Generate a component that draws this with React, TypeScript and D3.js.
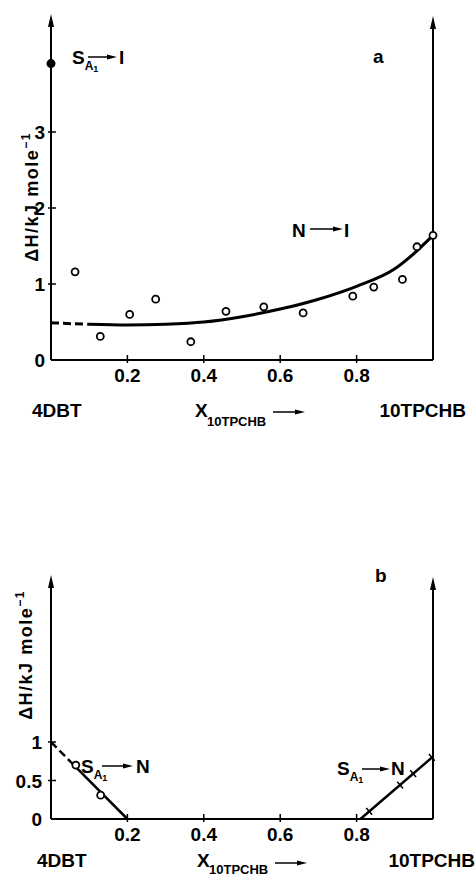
import React from "react";
import * as d3 from "d3";

// x axis ticks shared by both panels
const xTicks = [0.2, 0.4, 0.6, 0.8];
const xTickLabels = ["0.2", "0.4", "0.6", "0.8"];

// panel a
const aYTicks = [0, 1, 2, 3];
const aPointX = [0.063, 0.129, 0.206, 0.274, 0.366, 0.458, 0.557, 0.66, 0.79, 0.845, 0.92, 0.958, 1.0];
const aPointY = [1.16, 0.31, 0.6, 0.8, 0.24, 0.64, 0.7, 0.62, 0.84, 0.96, 1.06, 1.49, 1.64];
const aCurveX = [0, 0.1, 0.2, 0.3, 0.4, 0.5, 0.6, 0.7, 0.8, 0.9, 0.95, 1];
const aCurveY = [0.49, 0.47, 0.46, 0.47, 0.5, 0.57, 0.67, 0.8, 0.97, 1.2, 1.4, 1.64];
const aDashEnd = 0.095;
const aSmaIso = 3.9; // filled point on the 4DBT axis

// panel b
const bYTicks = [0, 0.5, 1];
const bYTickLabels = ["0", "0.5", "1"];
const bLeftLineX = [0, 0.2];
const bLeftLineY = [1, 0];
const bLeftDashEnd = 0.06;
const bLeftPointX = [0.065, 0.13];
const bLeftPointY = [0.7, 0.31];
const bRightLineX = [0.81, 1];
const bRightLineY = [0, 0.81];
const bRightCrossX = [0.833, 0.914, 0.948, 0.997];
const bRightCrossY = [0.1, 0.44, 0.59, 0.8];

const FONT = "'Liberation Sans', Arial, Helvetica, sans-serif";

const x = d3.scaleLinear().domain([0, 1]).range([51, 433]);
const yA = d3.scaleLinear().domain([0, 1]).range([360, 284]);
const yB = d3.scaleLinear().domain([0, 1]).range([819, 742]);

function Arrow({ x1, y1, x2, y2, w = 3, len = 10, sw = 1.6 }: any) {
  const a = Math.atan2(y2 - y1, x2 - x1);
  const bx = x2 - len * Math.cos(a);
  const by = y2 - len * Math.sin(a);
  const px = -Math.sin(a) * w;
  const py = Math.cos(a) * w;
  return (
    <g>
      <line x1={x1} y1={y1} x2={bx} y2={by} stroke="#000" strokeWidth={sw} />
      <polygon points={`${x2},${y2} ${bx + px},${by + py} ${bx - px},${by - py}`} fill="#000" />
    </g>
  );
}

function Frame({ y, top, ticks, labels, labelX }: any) {
  const y0 = y(0);
  return (
    <g>
      <line x1={x(0)} y1={y0} x2={x(1)} y2={y0} stroke="#000" strokeWidth={2} />
      <Arrow x1={x(0)} y1={y0} x2={x(0)} y2={top} w={3} len={13} sw={2} />
      <Arrow x1={x(1)} y1={y0} x2={x(1)} y2={top + 2} w={3} len={13} sw={2} />
      {xTicks.map((t, i) => (
        <g key={t}>
          <line x1={x(t)} y1={y0 - 5} x2={x(t)} y2={y0 + 3} stroke="#000" strokeWidth={1.5} />
          <text x={x(t)} y={y0 + 22} textAnchor="middle" fontSize={19} fontWeight="bold" fontFamily={FONT}>
            {xTickLabels[i]}
          </text>
        </g>
      ))}
      {ticks.map((t: number, i: number) => (
        <g key={t}>
          {t > 0 && <line x1={x(0) - 3} y1={y(t)} x2={x(0) + 5} y2={y(t)} stroke="#000" strokeWidth={1.5} />}
          <text x={labelX} y={y(t) + 7} textAnchor="end" fontSize={19} fontWeight="bold" fontFamily={FONT}>
            {labels[i]}
          </text>
        </g>
      ))}
    </g>
  );
}

function YLabel({ tx, ty }: any) {
  return (
    <text
      transform={`translate(${tx},${ty}) rotate(-90)`}
      textAnchor="middle"
      fontSize={18}
      fontWeight="bold"
      fontFamily={FONT}
      letterSpacing={1.5}
    >
      ΔH/kJ mole<tspan fontSize={12} dy={-8}>−1</tspan>
    </text>
  );
}

function BottomRow({ base, xa, xs, xe, ay, sub }: any) {
  return (
    <g fontFamily={FONT} fontWeight="bold">
      <text x={xa} y={base} fontSize={19}>4DBT</text>
      <text x={xs} y={base} fontSize={19}>X</text>
      <text x={xs + 12} y={base + sub} fontSize={13}>10TPCHB</text>
      <Arrow x1={xs + 78} y1={ay} x2={xs + 110} y2={ay} w={2.5} len={10} sw={1.5} />
      <text x={xe} y={base} fontSize={19} textAnchor="end">10TPCHB</text>
    </g>
  );
}

function Transition({ from, sx, base, ax1, ax2, ay, to, tx }: any) {
  return (
    <g fontFamily={FONT} fontWeight="bold">
      {from === "S" ? (
        <text x={sx} y={base} fontSize={19}>
          S<tspan fontSize={12} dy={6}>A</tspan><tspan fontSize={9} dy={2}>1</tspan>
        </text>
      ) : (
        <text x={sx} y={base} fontSize={19}>{from}</text>
      )}
      <Arrow x1={ax1} y1={ay} x2={ax2} y2={ay} w={2.5} len={10} sw={1.5} />
      <text x={tx} y={base} fontSize={19}>{to}</text>
    </g>
  );
}

export default function App() {
  const curve = d3
    .line<[number, number]>()
    .x((d) => x(d[0]))
    .y((d) => yA(d[1]))
    .curve(d3.curveMonotoneX);
  const curveD = curve(aCurveX.map((v, i) => [v, aCurveY[i]] as [number, number])) || "";

  // dashed start / solid rest via clip paths
  const cutPx = x(aDashEnd);
  const bCutPx = x(bLeftDashEnd);

  const segB = d3
    .line<[number, number]>()
    .x((d) => x(d[0]))
    .y((d) => yB(d[1]));
  const leftD = segB(bLeftLineX.map((v, i) => [v, bLeftLineY[i]] as [number, number])) || "";
  const rightD = segB(bRightLineX.map((v, i) => [v, bRightLineY[i]] as [number, number])) || "";

  const rA = Math.atan2(yB(bRightLineY[1]) - yB(bRightLineY[0]), x(bRightLineX[1]) - x(bRightLineX[0]));
  const perpX = -Math.sin(rA) * 4.5;
  const perpY = Math.cos(rA) * 4.5;

  return (
    <svg
      width={476}
      height={877}
      style={{ position: "absolute", left: 0, top: 0, background: "#fff" }}
    >
      <defs>
        <clipPath id="aDash"><rect x={0} y={0} width={cutPx} height={440} /></clipPath>
        <clipPath id="aSolid"><rect x={cutPx} y={0} width={476} height={440} /></clipPath>
        <clipPath id="bDash"><rect x={0} y={560} width={bCutPx} height={317} /></clipPath>
        <clipPath id="bSolid"><rect x={bCutPx} y={560} width={476} height={317} /></clipPath>
      </defs>

      {/* panel a */}
      <Frame y={yA} top={14} ticks={aYTicks} labels={aYTicks.map(String)} labelX={45} />
      <YLabel tx={38} ty={197} />
      <path d={curveD} fill="none" stroke="#000" strokeWidth={3} strokeDasharray="8 4" clipPath="url(#aDash)" />
      <path d={curveD} fill="none" stroke="#000" strokeWidth={3} clipPath="url(#aSolid)" />
      {aPointX.map((v, i) => (
        <circle key={i} cx={x(v)} cy={yA(aPointY[i])} r={3.5} fill="#fff" stroke="#000" strokeWidth={1.8} />
      ))}
      <circle cx={x(0)} cy={yA(aSmaIso)} r={4.5} fill="#000" />
      <text x={373} y={63} fontSize={19} fontWeight="bold" fontFamily={FONT}>a</text>
      <Transition from="S" sx={72} base={64} ax1={88} ax2={117} ay={57} to="I" tx={119} />
      <Transition from="N" sx={292} base={237} ax1={310} ax2={343} ay={229} to="I" tx={344} />
      <BottomRow base={417} xa={32} xs={195} xe={466} ay={412} sub={9} />

      {/* panel b */}
      <Frame y={yB} top={575} ticks={bYTicks} labels={bYTickLabels} labelX={42} />
      <YLabel tx={32} ty={655} />
      <path d={leftD} fill="none" stroke="#000" strokeWidth={2.5} strokeDasharray="8 4" clipPath="url(#bDash)" />
      <path d={leftD} fill="none" stroke="#000" strokeWidth={2.5} clipPath="url(#bSolid)" />
      <path d={rightD} fill="none" stroke="#000" strokeWidth={2.5} />
      {bLeftPointX.map((v, i) => (
        <circle key={i} cx={x(v)} cy={yB(bLeftPointY[i])} r={3.5} fill="#fff" stroke="#000" strokeWidth={1.8} />
      ))}
      {bRightCrossX.map((v, i) => (
        <line
          key={i}
          x1={x(v) - perpX}
          y1={yB(bRightCrossY[i]) - perpY}
          x2={x(v) + perpX}
          y2={yB(bRightCrossY[i]) + perpY}
          stroke="#000"
          strokeWidth={1.5}
        />
      ))}
      <text x={375} y={582} fontSize={19} fontWeight="bold" fontFamily={FONT}>b</text>
      <Transition from="S" sx={81} base={773} ax1={102} ax2={133} ay={766} to="N" tx={136} />
      <Transition from="S" sx={337} base={775} ax1={362} ax2={390} ay={769} to="N" tx={391} />
      <BottomRow base={867} xa={37} xs={197} xe={475} ay={863} sub={7} />
    </svg>
  );
}
